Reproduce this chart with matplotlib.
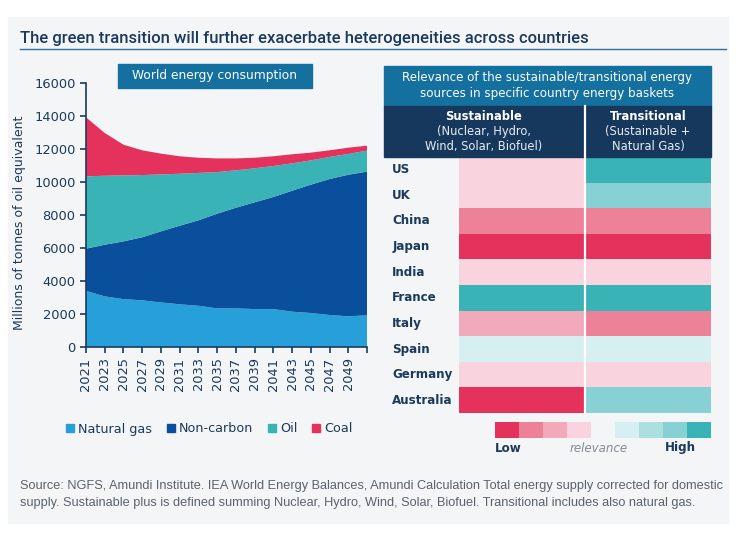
import numpy as np
import matplotlib
matplotlib.use('Agg')
from matplotlib import pyplot as plt
from matplotlib.patches import Rectangle
from matplotlib.colors import ListedColormap, BoundaryNorm
from matplotlib.lines import Line2D

# world energy consumption (Mtoe)
years = [2021, 2023, 2025, 2027, 2029, 2031, 2033, 2035, 2037, 2039, 2041, 2043, 2045, 2047, 2049, 2051]
year_labels = ['2021', '2023', '2025', '2027', '2029', '2031', '2033', '2035', '2037', '2039', '2041',
               '2043', '2045', '2047', '2049', '']
natural_gas = [3400, 3070, 2900, 2830, 2700, 2590, 2500, 2340, 2340, 2300, 2300, 2140, 2060, 1940, 1860, 1920]
non_carbon = [2560, 3130, 3500, 3820, 4310, 4760, 5180, 5740, 6100, 6470, 6790, 7330, 7780, 8240, 8580, 8710]
oil = [4380, 4180, 4000, 3770, 3450, 3150, 2870, 2520, 2270, 2060, 1880, 1660, 1470, 1340, 1260, 1270]
coal = [3580, 2590, 1860, 1500, 1260, 1060, 920, 830, 720, 640, 590, 550, 470, 400, 380, 300]
series_names = ['Natural gas', 'Non-carbon', 'Oil', 'Coal']

# relevance table: 1 = low ... 5 = neutral ... 9 = high
countries = ['US', 'UK', 'China', 'Japan', 'India', 'France', 'Italy', 'Spain', 'Germany', 'Australia']
sustainable = [4, 4, 2, 1, 4, 9, 3, 6, 4, 1]
transitional = [9, 8, 2, 1, 4, 9, 2, 6, 4, 8]
legend_levels = [1, 2, 3, 4, 5, 6, 7, 8, 9]

navy = '#1b3a5c'
panel = '#f3f5f7'
box_blue = '#13709f'
dark_head = '#16385d'
area_colors = ['#27a0da', '#0a4f9c', '#3ab3b6', '#e5325c']
level_colors = ['#e5325c', '#ec8198', '#f2aabb', '#f9d4de', panel, '#d6eff1', '#acdfe0', '#87d0d3', '#3ab3b6']

W, H = 750, 546
def fx(x): return x / W
def fy(y): return 1 - y / H

fig = plt.figure(figsize=(7.5, 5.46), dpi=100)
fig.patch.set_facecolor('white')
fig.add_artist(Rectangle((fx(8), fy(523)), fx(728) - fx(8), (523 - 17) / H,
                         transform=fig.transFigure, color=panel, zorder=0))

# title
fig.text(fx(20), fy(38), 'The green transition will further exacerbate heterogeneities across countries',
         family=['Roboto', 'DejaVu Sans'], fontsize=12, weight='medium', color=navy, va='center')
fig.add_artist(Line2D([fx(20), fx(726)], [fy(49), fy(49)], transform=fig.transFigure, color='#2f6fa0', lw=1))

# ---- left: stacked area ----
ax = fig.add_axes([fx(86), fy(347), fx(367) - fx(86), (347 - 83) / H])
ax.set_facecolor('none')
ax.stackplot(years, natural_gas, non_carbon, oil, coal, colors=area_colors, linewidth=0)
ax.set_xlim(years[0], years[-1])
ax.set_ylim(0, 16000)
ax.set_yticks(np.arange(0, 16001, 2000))
ax.set_xticks(years)
ax.set_xticklabels(year_labels, rotation=90)
for s in ['top', 'right']:
    ax.spines[s].set_visible(False)
for s in ['left', 'bottom']:
    ax.spines[s].set_color(navy)
    ax.spines[s].set_linewidth(1.2)
ax.tick_params(colors=navy, labelsize=9.4, length=4, width=1.2)
ax.set_ylabel('Millions of tonnes of oil equivalent', color=navy, fontsize=9)
ax.yaxis.set_label_coords(-0.215, 0.47)

fig.add_artist(Rectangle((fx(118), fy(88)), fx(312) - fx(118), 24 / H,
                         transform=fig.transFigure, color=box_blue))
fig.text(fx(215), fy(76), 'World energy consumption', color='white', fontsize=8.8, ha='center', va='center')

handles = [Line2D([], [], marker='s', ls='none', color=c, markersize=6) for c in area_colors]
fig.legend(handles, series_names, loc='center left', bbox_to_anchor=(fx(60), fy(429)), ncol=4,
           frameon=False, fontsize=9.2, labelcolor=navy, handletextpad=0.2, columnspacing=1.1,
           handlelength=0.8, borderaxespad=0)

# ---- right: relevance table ----
fig.add_artist(Rectangle((fx(384), fy(106)), fx(711) - fx(384), 40 / H,
                         transform=fig.transFigure, color=box_blue))
fig.text(fx(547), fy(85), 'Relevance of the sustainable/transitional energy\nsources in specific country energy baskets',
         color='white', fontsize=8.6, ha='center', va='center', linespacing=1.3)
fig.add_artist(Rectangle((fx(384), fy(157)), fx(711) - fx(384), 51 / H,
                         transform=fig.transFigure, color=dark_head))
fig.text(fx(484), fy(117), 'Sustainable', color='white', fontsize=8.3, weight='bold', ha='center', va='center')
fig.text(fx(484), fy(139), '(Nuclear, Hydro,\nWind, Solar, Biofuel)', color='#e6edf3', fontsize=8.3,
         ha='center', va='center', linespacing=1.15)
fig.text(fx(648), fy(117), 'Transitional', color='white', fontsize=8.3, weight='bold', ha='center', va='center')
fig.text(fx(648), fy(139), '(Sustainable +\nNatural Gas)', color='#e6edf3', fontsize=8.3,
         ha='center', va='center', linespacing=1.15)

cmap = ListedColormap(level_colors)
norm = BoundaryNorm(np.arange(0.5, 10.5, 1), cmap.N)

axh = fig.add_axes([fx(459), fy(413), fx(711) - fx(459), (413 - 157) / H])
grid = np.array([sustainable, transitional]).T
axh.imshow(grid, cmap=cmap, norm=norm, aspect='auto', interpolation='nearest')
axh.axis('off')
for i, c in enumerate(countries):
    axh.text(-0.265, 1 - (i + 0.5) / len(countries), c, transform=axh.transAxes,
             color=navy, fontsize=8.6, weight='bold', va='center', ha='left')
fig.add_artist(Line2D([fx(585), fx(585)], [fy(106), fy(413)], transform=fig.transFigure,
                      color='white', lw=1.6))

axl = fig.add_axes([fx(495), fy(438), fx(711) - fx(495), 16 / H])
axl.imshow([legend_levels], cmap=cmap, norm=norm, aspect='auto', interpolation='nearest')
axl.axis('off')
fig.text(fx(495), fy(448), 'Low', color=navy, fontsize=8.6, weight='bold', ha='left', va='center')
fig.text(fx(599), fy(448), 'relevance', color='#858b93', fontsize=8.6, style='italic', ha='center', va='center')
fig.text(fx(696), fy(448), 'High', color=navy, fontsize=8.6, weight='bold', ha='right', va='center')

# source
fig.text(fx(20), fy(486), 'Source: NGFS, Amundi Institute. IEA World Energy Balances, Amundi Calculation Total energy supply '
         'corrected for domestic', family=['Liberation Sans', 'DejaVu Sans'], fontsize=9.2, color='#5a636d', va='center')
fig.text(fx(20), fy(503), 'supply. Sustainable plus is defined summing Nuclear, Hydro, Wind, Solar, Biofuel. Transitional '
         'includes also natural gas.', family=['Liberation Sans', 'DejaVu Sans'], fontsize=9.2, color='#5a636d', va='center')

fig.savefig('out.png', dpi=100, facecolor=fig.get_facecolor())
